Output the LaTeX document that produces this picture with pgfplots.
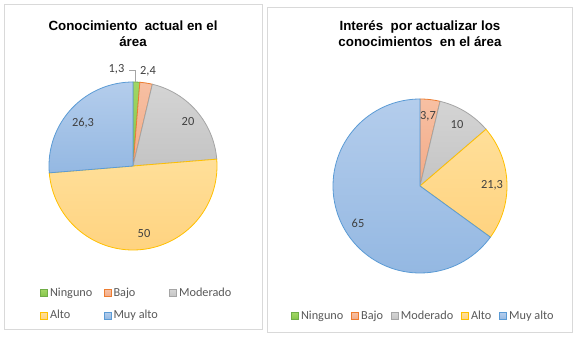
\documentclass[border=0pt]{standalone}
\usepackage{pgfplots}
\pgfplotsset{compat=1.18}
\usepackage{fontspec}
\setmainfont{Carlito}
\newfontfamily\titlefont{Liberation Sans}
\definecolor{gT}{RGB}{160,214,100}\definecolor{gB}{RGB}{132,196,72}\definecolor{gD}{RGB}{112,173,71}
\definecolor{oT}{RGB}{247,192,163}\definecolor{oB}{RGB}{242,170,135}\definecolor{oD}{RGB}{237,125,49}
\definecolor{sT}{RGB}{212,212,212}\definecolor{sB}{RGB}{196,196,196}\definecolor{sD}{RGB}{165,165,165}
\definecolor{yT}{RGB}{255,223,153}\definecolor{yB}{RGB}{255,211,128}\definecolor{yD}{RGB}{255,192,0}
\definecolor{bT}{RGB}{180,205,236}\definecolor{bB}{RGB}{148,184,226}\definecolor{bD}{RGB}{91,155,213}
\definecolor{labtext}{RGB}{64,64,64}
\definecolor{legtext}{RGB}{89,89,89}
\definecolor{frame}{RGB}{217,217,217}
\tikzset{
  lab/.style={font=\fontsize{9.3}{11}\selectfont, text=labtext},
  ttl/.style={font=\titlefont\bfseries\fontsize{10}{12}\selectfont, align=center, text=black},
}
\pgfplotsset{
  pieax/.style={hide axis, scale only axis, width=150pt, height=150pt,
    xmin=-100,xmax=100,ymin=-100,ymax=100, clip=false, anchor=center,
    legend image code/.code={\draw[##1,line width=0.6pt] (0pt,-2.6pt) rectangle (5.25pt,2.6pt);},
    legend style={draw=none, fill=none, font=\fontsize{9.2}{11}\selectfont\color{legtext},
      cells={anchor=west}, nodes={inner sep=1.5pt}, anchor=north west},
    every axis plot/.append style={line width=0.6pt, samples=80, no marks},
  },
}
\begin{document}
\begin{tikzpicture}[x=0.75pt,y=0.75pt]
\path[fill=white] (0,0) rectangle (575,337);
\draw[frame, line width=0.75pt] (4,8) rectangle (262,333);
\draw[frame, line width=0.75pt] (267,5) rectangle (572,330);

% ---------- left pie ----------
\begin{axis}[pieax, at={(99.75pt,128.25pt)},
  legend columns=3,
  legend style={at={(axis cs:-97,-117)}, /tikz/every even column/.append style={column sep=7pt}, row sep=6pt}]
\addplot[top color=gT, bottom color=gB, draw=gD, domain={90-3.6*(1.3)}:{90}]
  ({84*cos(x)},{84*sin(x)}) -- (axis cs:0,0) -- cycle;
\addlegendentry{Ninguno}
\addplot[top color=oT, bottom color=oB, draw=oD, domain={90-3.6*(1.3+2.4)}:{90-3.6*(1.3)}]
  ({84*cos(x)},{84*sin(x)}) -- (axis cs:0,0) -- cycle;
\addlegendentry{Bajo}
\addplot[top color=sT, bottom color=sB, draw=sD, domain={90-3.6*(1.3+2.4+20)}:{90-3.6*(1.3+2.4)}]
  ({84*cos(x)},{84*sin(x)}) -- (axis cs:0,0) -- cycle;
\addlegendentry{Moderado}
\addplot[top color=yT, bottom color=yB, draw=yD, domain={90-3.6*(1.3+2.4+20+50)}:{90-3.6*(1.3+2.4+20)}]
  ({84*cos(x)},{84*sin(x)}) -- (axis cs:0,0) -- cycle;
\addlegendentry{Alto}
\addplot[top color=bT, bottom color=bB, draw=bD, domain={90-3.6*(1.3+2.4+20+50+26.3)}:{90-3.6*(1.3+2.4+20+50)}]
  ({84*cos(x)},{84*sin(x)}) -- (axis cs:0,0) -- cycle;
\addlegendentry{Muy alto}
\addplot[forget plot, draw=sD, line width=0.6pt] coordinates {(-4,96) (2,96) (2,84)};
\node[lab, anchor=east] at (axis cs:-4,97) {1,3};
\node[lab] at (axis cs:15,95) {2,4};
\node[lab] at (axis cs:55,44) {20};
\node[lab] at (axis cs:11,-68) {50};
\node[lab] at (axis cs:-50,43) {26,3};
\node[ttl] at (axis cs:0,132) {Conocimiento\ \ actual en el\\área};
\end{axis}

% ---------- right pie ----------
\begin{axis}[pieax, at={(315pt,113.25pt)},
  legend columns=5,
  legend style={at={(axis cs:-133,-120)}, /tikz/every even column/.append style={column sep=4.5pt}}]
\addlegendimage{top color=gT, bottom color=gB, draw=gD}
\addlegendentry{Ninguno}
\addplot[top color=oT, bottom color=oB, draw=oD, domain={90-3.6*(3.7)}:{90}]
  ({87*cos(x)},{87*sin(x)}) -- (axis cs:0,0) -- cycle;
\addlegendentry{Bajo}
\addplot[top color=sT, bottom color=sB, draw=sD, domain={90-3.6*(3.7+10)}:{90-3.6*(3.7)}]
  ({87*cos(x)},{87*sin(x)}) -- (axis cs:0,0) -- cycle;
\addlegendentry{Moderado}
\addplot[top color=yT, bottom color=yB, draw=yD, domain={90-3.6*(3.7+10+21.3)}:{90-3.6*(3.7+10)}]
  ({87*cos(x)},{87*sin(x)}) -- (axis cs:0,0) -- cycle;
\addlegendentry{Alto}
\addplot[top color=bT, bottom color=bB, draw=bD, domain={90-3.6*(3.7+10+21.3+65)}:{90-3.6*(3.7+10+21.3)}]
  ({87*cos(x)},{87*sin(x)}) -- (axis cs:0,0) -- cycle;
\addlegendentry{Muy alto}
\node[lab] at (axis cs:8,70) {3,7};
\node[lab] at (axis cs:37,61) {10};
\node[lab] at (axis cs:72,1) {21,3};
\node[lab] at (axis cs:-62,-37) {65};
\node[ttl] at (axis cs:0,152) {Interés\ \ por actualizar los\\conocimientos\ \ en el área};
\end{axis}
\end{tikzpicture}
\end{document}
